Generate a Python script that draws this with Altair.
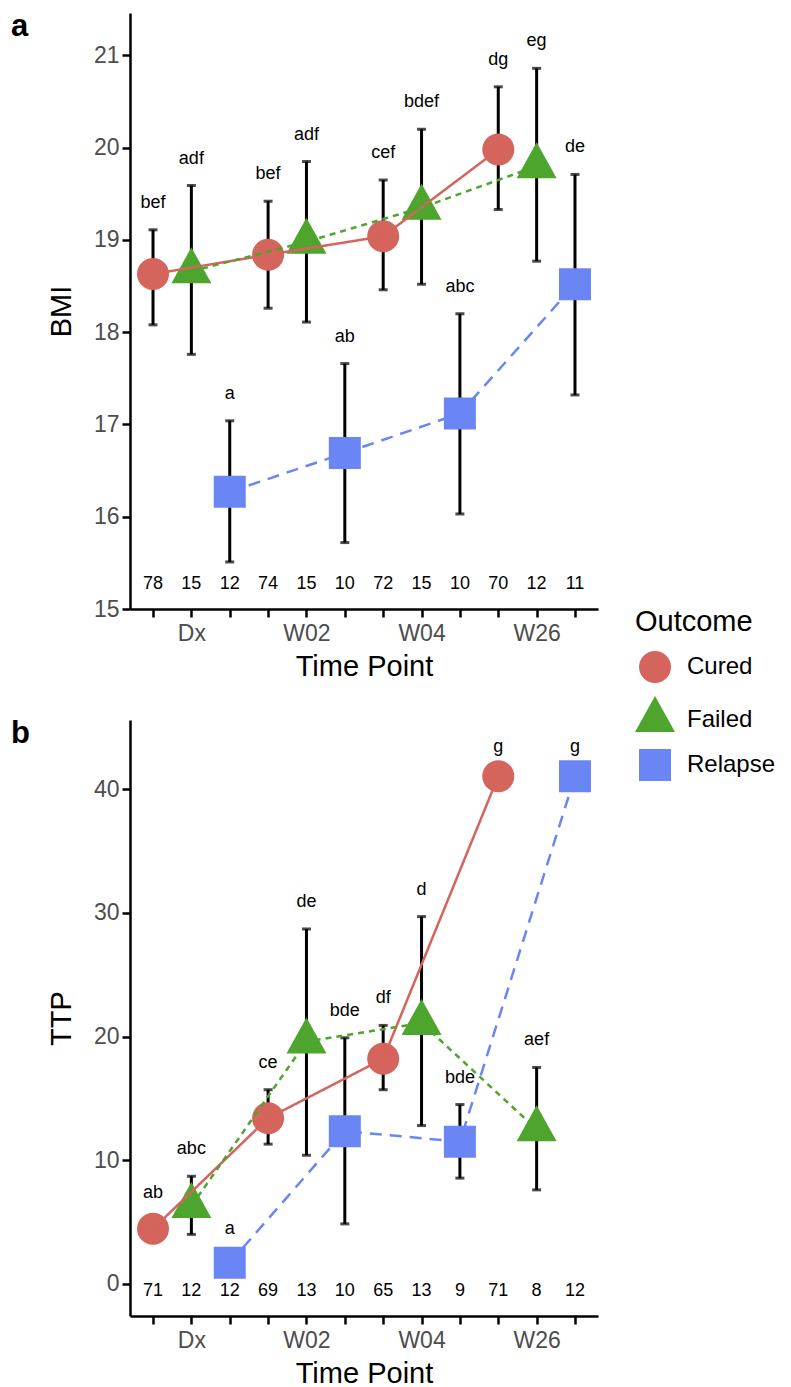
import json
import altair as alt
import pandas as pd

timepoints = ["Dx", "W02", "W04", "W26"]
outcomes = ["Cured", "Failed", "Relapse"]
colors = ["#D4645C", "#4EA52E", "#6A86F5"]
# custom marker paths (circle, triangle with centroid at the point, square)
shapes = [
    "M0.8,0A0.8,0.8,0,1,1,-0.8,0A0.8,0.8,0,1,1,0.8,0Z",
    "M0,-1.2L1,0.6L-1,0.6Z",
    "M-0.8,-0.8L0.8,-0.8L0.8,0.8L-0.8,0.8Z",
]
dashes = [[1, 0], [6, 5], [12, 8]]

# ---- Panel a: BMI ----
bmi_cured_mean = [18.63, 18.84, 19.04, 19.98]
bmi_cured_upper = [19.11, 19.42, 19.65, 20.66]
bmi_cured_lower = [18.08, 18.26, 18.46, 19.33]
bmi_failed_mean = [18.66, 18.98, 19.35, 19.80]
bmi_failed_upper = [19.59, 19.85, 20.20, 20.86]
bmi_failed_lower = [17.76, 18.11, 18.52, 18.77]
bmi_relapse_mean = [16.27, 16.69, 17.12, 18.52]
bmi_relapse_upper = [17.04, 17.66, 18.20, 19.71]
bmi_relapse_lower = [15.51, 15.72, 16.03, 17.32]
bmi_cured_letters = ["bef", "bef", "cef", "dg"]
bmi_failed_letters = ["adf", "adf", "bdef", "eg"]
bmi_relapse_letters = ["a", "ab", "abc", "de"]
bmi_cured_n = [78, 74, 72, 70]
bmi_failed_n = [15, 15, 15, 12]
bmi_relapse_n = [12, 10, 10, 11]
bmi_ticks = [15, 16, 17, 18, 19, 20, 21]

# ---- Panel b: TTP ----
ttp_cured_mean = [4.45, 13.4, 18.2, 41.05]
ttp_cured_upper = [5.17, 15.7, 20.9, 41.25]
ttp_cured_lower = [3.7, 11.3, 15.7, 40.85]
ttp_failed_mean = [6.3, 19.6, 21.1, 12.5]
ttp_failed_upper = [8.7, 28.7, 29.7, 17.5]
ttp_failed_lower = [4.0, 10.4, 12.8, 7.6]
ttp_relapse_mean = [1.7, 12.35, 11.5, 41.05]
ttp_relapse_upper = [2.26, 19.9, 14.5, 41.25]
ttp_relapse_lower = [1.15, 4.85, 8.55, 40.85]
ttp_cured_letters = ["ab", "ce", "df", "g"]
ttp_failed_letters = ["abc", "de", "d", "aef"]
ttp_relapse_letters = ["a", "bde", "bde", "g"]
ttp_cured_n = [71, 69, 65, 71]
ttp_failed_n = [12, 13, 13, 8]
ttp_relapse_n = [12, 10, 9, 12]
ttp_ticks = [0, 10, 20, 30, 40]


def make_df(means, uppers, lowers, letters, ns):
    rows = []
    for oi, o in enumerate(outcomes):
        for ti, t in enumerate(timepoints):
            rows.append({
                "Outcome": o, "Time": t,
                "pos": ti * 3 + oi + 1,
                "mean": means[oi][ti], "upper": uppers[oi][ti],
                "lower": lowers[oi][ti], "letter": letters[oi][ti],
                "n": str(ns[oi][ti]),
            })
    return pd.DataFrame(rows)


df_a = make_df([bmi_cured_mean, bmi_failed_mean, bmi_relapse_mean],
               [bmi_cured_upper, bmi_failed_upper, bmi_relapse_upper],
               [bmi_cured_lower, bmi_failed_lower, bmi_relapse_lower],
               [bmi_cured_letters, bmi_failed_letters, bmi_relapse_letters],
               [bmi_cured_n, bmi_failed_n, bmi_relapse_n])
df_b = make_df([ttp_cured_mean, ttp_failed_mean, ttp_relapse_mean],
               [ttp_cured_upper, ttp_failed_upper, ttp_relapse_upper],
               [ttp_cured_lower, ttp_failed_lower, ttp_relapse_lower],
               [ttp_cured_letters, ttp_failed_letters, ttp_relapse_letters],
               [ttp_cured_n, ttp_failed_n, ttp_relapse_n])

W, H = 468, 596
FONT = "Liberation Sans"
label_expr = "datum.value % 3 == 2 ? " + json.dumps(timepoints) + "[(datum.value - 2) / 3] : ''"

color_scale = alt.Scale(domain=outcomes, range=colors)
shape_scale = alt.Scale(domain=outcomes, range=shapes)
dash_scale = alt.Scale(domain=outcomes, range=dashes)


def panel(df, ytitle, domain, yticks, letter, show_legend):
    base = alt.Chart(df)
    xs = alt.Scale(domain=[0.4, 12.6], nice=False, zero=False)
    ys = alt.Scale(domain=domain, nice=False, zero=False)
    x = alt.X("pos:Q", scale=xs,
              axis=alt.Axis(values=list(range(1, 13)), labelExpr=label_expr,
                            title="Time Point"))
    xp = alt.X("pos:Q", scale=xs)
    y_axis = alt.Y("lower:Q", scale=ys,
                   axis=alt.Axis(values=yticks, title=ytitle, format="d"))

    rules = base.mark_rule(color="black", strokeWidth=3).encode(
        x=x, y=y_axis, y2="upper:Q")
    cap_hi = base.mark_tick(color="black", orient="horizontal", size=9,
                            thickness=3).encode(x=xp, y=alt.Y("upper:Q", scale=ys))
    cap_lo = base.mark_tick(color="black", orient="horizontal", size=9,
                            thickness=3).encode(x=xp, y=alt.Y("lower:Q", scale=ys))
    legend = alt.Legend(title="Outcome", orient="none", legendX=505, legendY=595) if show_legend else None
    points = base.mark_point(filled=True, opacity=1, size=1600).encode(
        x=xp, y=alt.Y("mean:Q", scale=ys),
        color=alt.Color("Outcome:N", scale=color_scale, legend=legend),
        shape=alt.Shape("Outcome:N", scale=shape_scale, legend=legend),
    )
    lines = base.mark_line(strokeWidth=2.5).encode(
        x=xp, y=alt.Y("mean:Q", scale=ys),
        color=alt.Color("Outcome:N", scale=color_scale, legend=legend),
        strokeDash=alt.StrokeDash("Outcome:N", scale=dash_scale, legend=None),
    )
    letters_t = base.mark_text(font=FONT, fontSize=18, dy=-22, baseline="alphabetic",
                               color="black").encode(
        x=xp, y=alt.Y("upper:Q", scale=ys), text="letter:N")
    n_t = base.mark_text(font=FONT, fontSize=18, baseline="alphabetic",
                         color="black").encode(
        x=xp, y=alt.value(H - 20), text="n:N")
    tag = alt.Chart(pd.DataFrame({"t": [letter]})).mark_text(
        font=FONT, fontSize=31, fontWeight="bold", align="left", baseline="top",
        color="black").encode(x=alt.value(-119), y=alt.value(-1), text="t:N")
    return alt.layer(rules, cap_hi, cap_lo, points, lines, letters_t, n_t, tag).properties(
        width=W, height=H)


pa = panel(df_a, "BMI", [15, 21.46], bmi_ticks, "a", True)
pb = panel(df_b, "TTP", [-2.6, 45.6], ttp_ticks, "b", True)

chart = alt.vconcat(pa, pb, spacing=111, bounds="flush").properties(
    padding={"left": 3, "top": 3, "right": 5, "bottom": 0}
).configure(font=FONT).configure_view(stroke=None).configure_axis(
    grid=False, domainColor="black", domainWidth=2.5, tickColor="black",
    tickWidth=2.5, tickSize=8, labelFontSize=23, labelColor="#4D4D4D",
    labelFont=FONT, titleFont=FONT, titleFontSize=29, titleFontWeight="normal",
    titleColor="black", labelPadding=3,
).configure_axisX(titleY=43, labelPadding=5).configure_axisY(
    titleX=-69, titleBaseline="middle"
).configure_legend(
    titleFontSize=29, titleFontWeight="normal", titleColor="black", titleFont=FONT,
    labelFontSize=24, labelColor="black", labelFont=FONT, symbolSize=1600,
    symbolStrokeWidth=0, rowPadding=13, labelOffset=12, titlePadding=10, padding=0,
)

chart.save("out.html", embed_options={"renderer": "svg", "actions": False})
